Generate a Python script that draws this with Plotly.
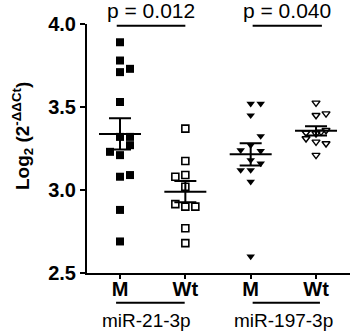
import numpy as np
import plotly.graph_objects as go

# ---------------- data ----------------
tick_labels = ["M", "Wt", "M", "Wt"]
group_names = ["miR-21-3p", "miR-197-3p"]
p_values = ["p = 0.012", "p = 0.040"]

m_21 = [3.89, 3.78, 3.73, 3.71, 3.53, 3.32, 3.32, 3.27, 3.23, 3.21, 3.08, 3.09, 2.88, 2.69]
wt_21 = [3.37, 3.175, 3.09, 3.08, 3.02, 2.915, 2.90, 2.90, 2.77, 2.68]
m_197 = [3.52, 3.52, 3.45, 3.325, 3.27, 3.24, 3.235, 3.18, 3.16, 3.12, 3.12, 3.05, 2.60]
wt_197 = [3.525, 3.46, 3.45, 3.36, 3.345, 3.34, 3.35, 3.31, 3.29, 3.28, 3.21]

# horizontal scatter (jitter) of each point, in dot widths
jit_m_21 = [0, 0, 1, 0, 0, 0, 1, 1, -1, 0, 0, 1, 0, 0]
jit_wt_21 = [0, 0, 0, -1, 0, -1, 0, 1, 0, 0]
jit_m_197 = [0, 1, 0, 1, 0, -1, 1, 0, 1, -1, 0, 0, 0]
jit_wt_197 = [0, 1, 0, 1, -1, 0, 0.5, -1, 0, 1, 0]

JIT = 0.153
groups = [
    (1, m_21, jit_m_21, "square", "black", 8, 0),
    (2, wt_21, jit_wt_21, "square-open", "black", 7, 1.6),
    (3, m_197, jit_m_197, "triangle-down", "black", 7.5, 0),
    (4, wt_197, jit_wt_197, "triangle-down-open", "black", 7, 1.4),
]

fig = go.Figure()
for xc, vals, jit, sym, col, size, lw in groups:
    xs = [xc + j * JIT for j in jit]
    fig.add_trace(go.Scatter(
        x=xs, y=vals, mode="markers",
        marker=dict(symbol=sym, color=col, size=size,
                    line=dict(color="black", width=lw)),
        showlegend=False, hoverinfo="y"))
    arr = np.array(vals)
    mean = arr.mean()
    sem = arr.std(ddof=1) / np.sqrt(len(arr))
    fig.add_trace(go.Scatter(
        x=[xc], y=[mean], mode="markers",
        marker=dict(symbol="line-ew-open", size=30, color="black",
                    line=dict(color="black", width=2)),
        error_y=dict(type="data", array=[sem], visible=True,
                     color="black", thickness=2, width=11),
        showlegend=False, hoverinfo="y"))

font_family = "Arial, Liberation Sans, sans-serif"

# top significance lines and text
sig_spans = [(0.95, 2.0), (3.03, 4.09)]
for (x0, x1), ptxt in zip(sig_spans, p_values):
    fig.add_shape(type="line", xref="x", yref="y", x0=x0, x1=x1, y0=3.99, y1=3.99,
                  line=dict(color="black", width=2))
    fig.add_annotation(xref="x", yref="paper", x=(x0 + x1) / 2, y=1.056,
                       text=ptxt, showarrow=False, yanchor="middle",
                       font=dict(family=font_family, size=21, color="black"))

# group underline and labels
grp_spans = [(0.94, 1.99), (3.03, 4.06)]
grp_centers = [1.41, 3.5]
for (x0, x1), gx, name in zip(grp_spans, grp_centers, group_names):
    fig.add_shape(type="line", xref="x", yref="paper", x0=x0, x1=x1, y0=-0.119, y1=-0.119,
                  line=dict(color="black", width=2))
    fig.add_annotation(xref="x", yref="paper", x=gx, y=-0.189, text=name,
                       showarrow=False, yanchor="middle",
                       font=dict(family=font_family, size=19, color="black"))

# y axis title
fig.add_annotation(xref="paper", yref="paper", x=0, xshift=-65, y=0.55,
                   text="Log<sub>2</sub> (2<sup>-ΔΔCt</sup>)", textangle=-90,
                   showarrow=False, xanchor="center", yanchor="middle",
                   font=dict(family=font_family, size=19, color="black", weight="bold"))

fig.update_layout(
    width=350, height=335,
    margin=dict(l=87, r=0, t=24, b=62),
    plot_bgcolor="white", paper_bgcolor="white",
    font=dict(family=font_family, color="black"),
    xaxis=dict(range=[0.495, 4.52], tickvals=[1, 2, 3, 4], ticktext=tick_labels,
               ticks="outside", ticklen=4, tickwidth=2, tickcolor="black",
               showline=True, linewidth=2, linecolor="black",
               showgrid=False, zeroline=False, ticklabelstandoff=-7,
               tickfont=dict(family=font_family, size=20, color="black", weight="bold")),
    yaxis=dict(range=[2.5, 4.0], tickvals=[2.5, 3.0, 3.5, 4.0],
               ticktext=["2.5", "3.0", "3.5", "4.0"],
               ticks="outside", ticklen=5, tickwidth=2, tickcolor="black",
               showline=True, linewidth=2, linecolor="black",
               showgrid=False, zeroline=False,
               tickfont=dict(family=font_family, size=20, color="black", weight="bold")),
)

fig.write_html("out.html", config={"displayModeBar": False},
               post_script="document.body.style.margin='0';document.body.style.overflow='hidden';")
